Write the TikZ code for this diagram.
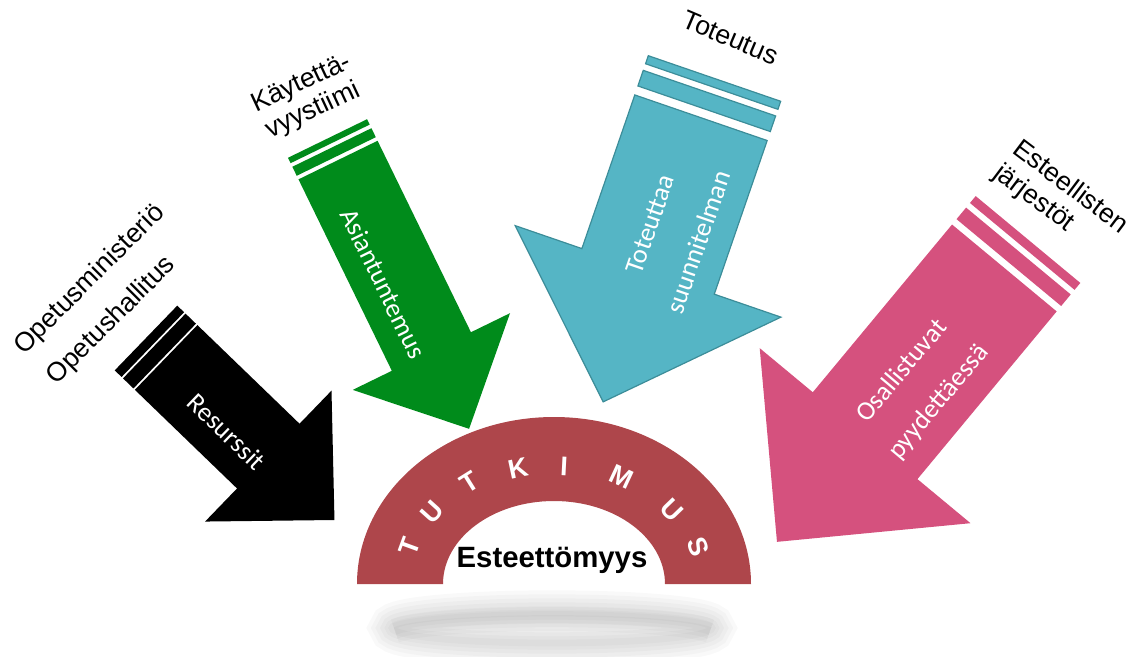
\documentclass[tikz,border=0pt]{standalone}
\usepackage{fontspec}
\setmainfont{Liberation Sans}
\newfontfamily\calib{Carlito}
\definecolor{archred}{RGB}{174,70,75}
\definecolor{kgreen}{RGB}{0,139,27}
\definecolor{kcyan}{RGB}{85,181,197}
\definecolor{kcyanb}{RGB}{60,141,153}
\definecolor{kpink}{RGB}{213,81,126}
\newcommand{\arrowbody}[8]{%
  \path[arrowfill] (0,-#2) rectangle (#5,#2);
  \path[arrowfill] ({#5+#6},-#2) rectangle ({#5+#6+#7},#2);
  \path[arrowfill] ({#5+#6+#7+#8},-#2) -- ({#1-#4},-#2) -- ({#1-#4},-#3) -- (#1,0)
     -- ({#1-#4},#3) -- ({#1-#4},#2) -- ({#5+#6+#7+#8},#2) -- cycle;
}
\begin{document}
\begin{tikzpicture}[x=0.75pt,y=-0.75pt,
  outerlabel/.style={font=\fontsize{20}{24}\selectfont, text=black, inner sep=0pt},
  innerlabel/.style={font=\calib\fontsize{20}{24}\selectfont, text=white, inner sep=0pt},
  archletter/.style={text=white, inner sep=0pt, scale=1.35}]
\useasboundingbox (0,0) rectangle (1133,657);

% soft shadow below the arch
\foreach \lw in {34,28,22,16,10,5}
  \draw[line width=\lw pt, black, opacity=0.022] (552,628) ellipse [x radius=160, y radius=15];
\foreach \lw in {18,12,6}
  \draw[line width=\lw pt, black, opacity=0.025] (395,631) arc[start angle=168, end angle=12, x radius=161, y radius=-15];

% black arrow
\begin{scope}[shift={(146,338)}, rotate=-44, arrowfill/.style={fill=black}]
  \arrowbody{262}{45}{91}{92}{9.5}{2}{14.5}{2}
\end{scope}
% green arrow
\begin{scope}[shift={(327.5,138.5)}, rotate=-64, arrowfill/.style={fill=kgreen}]
  \arrowbody{323}{44}{87.5}{86}{6}{4}{10}{4}
\end{scope}
% cyan arrow
\begin{scope}[shift={(714.5,78.5)}, rotate=-109, arrowfill/.style={fill=kcyan, draw=kcyanb, line width=0.9pt}]
  \arrowbody{342}{70}{140.5}{138}{8.5}{7}{16.5}{9.5}
\end{scope}
% pink arrow
\begin{scope}[shift={(1028,239.5)}, rotate=-129.7, arrowfill/.style={fill=kpink}]
  \arrowbody{393}{68}{137}{138}{9}{6}{15}{7}
\end{scope}

% arch
\fill[archred] (357,584) arc[start angle=180, end angle=360, x radius=197, y radius=167]
  -- (665,584) arc[start angle=0, end angle=-180, x radius=111, y radius=83] -- cycle;

\node[archletter, rotate=70] (l1) at (410,547) {\bfseries\fontsize{15}{18}\selectfont T};
\node[archletter, rotate=48] (l2) at (432,512) {\bfseries\fontsize{15}{18}\selectfont U};
\node[archletter, rotate=32] (l3) at (470,482) {\bfseries\fontsize{15}{18}\selectfont T};
\node[archletter, rotate=12] (l4) at (518,468) {\bfseries\fontsize{15}{18}\selectfont K};
\node[archletter, rotate=-3] (l5) at (564,466) {\bfseries\fontsize{15}{18}\selectfont I};
\node[archletter, rotate=-25] (l6) at (622,477) {\bfseries\fontsize{15}{18}\selectfont M};
\node[archletter, rotate=-46] (l7) at (672,510) {\bfseries\fontsize{15}{18}\selectfont U};
\node[archletter, rotate=-70] (l8) at (698,547) {\bfseries\fontsize{15}{18}\selectfont S};

\node[font=\bfseries\fontsize{22}{26}\selectfont, inner sep=0pt] (est) at (552,560) {Esteettömyys};

% labels outside the arrows
\node[outerlabel, rotate=45] (om) at (90,280) {Opetusministeriö};
\node[outerlabel, rotate=45] (oh) at (111.7,320.7) {Opetushallitus};
\node[outerlabel, rotate=25] (k1) at (301.7,84) {Käytettä-};
\node[outerlabel, rotate=25] (k2) at (313,110.7) {vyystiimi};
\node[outerlabel, rotate=-23] (tt) at (730.7,37.5) {Toteutus};
\node[outerlabel, rotate=-37, anchor=base west] (e1) at (1011,152) {Esteellisten};
\node[outerlabel, rotate=-37, anchor=base west] (e2) at (992,176) {järjestöt};

% labels inside the arrows
\node[innerlabel, rotate=-44] (res) at (226.7,431.7) {Resurssit};
\node[innerlabel, rotate=-64] (asi) at (383.3,283.3) {Asiantuntemus};
\node[innerlabel, rotate=71] (tot1) at (650,224) {Toteuttaa};
\node[innerlabel, rotate=71] (tot2) at (698,242) {suunnitelman};
\node[innerlabel, rotate=50] (os1) at (900.7,370) {Osallistuvat};
\node[innerlabel, rotate=50] (os2) at (939,402) {pyydettäessä};
\end{tikzpicture}
\end{document}
